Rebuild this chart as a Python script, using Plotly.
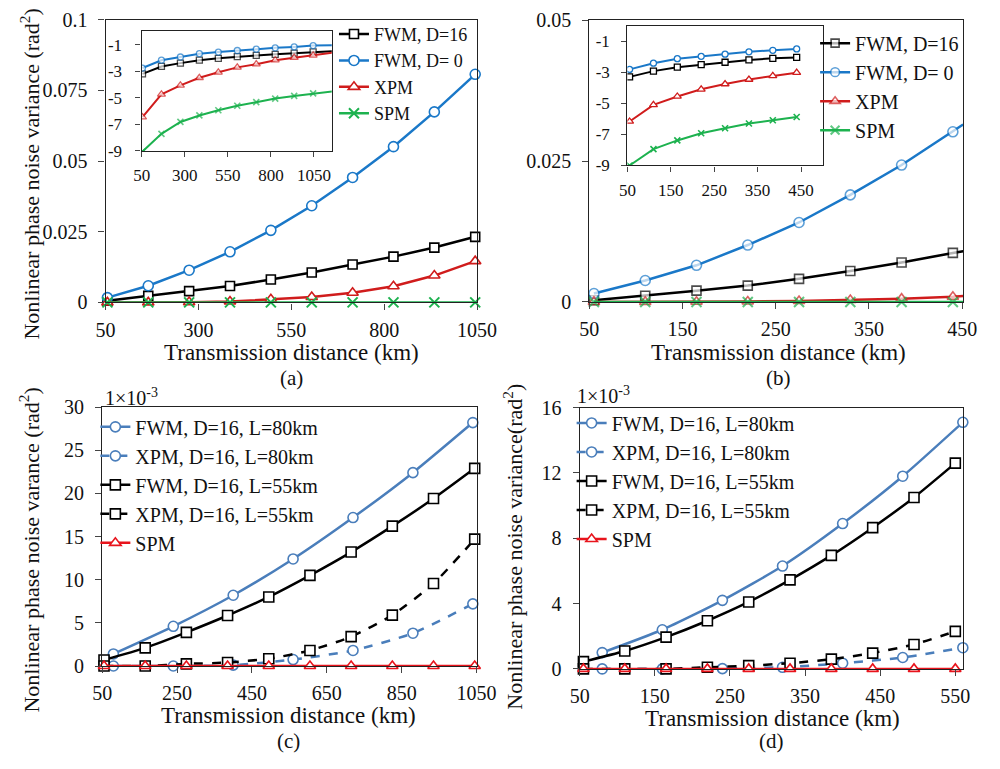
import plotly.graph_objects as go

# ---------------- data ----------------
# panel (a): main
a_x = [55, 165, 275, 385, 495, 605, 715, 825, 935, 1045]
a_fwm16 = [0.0006, 0.0023, 0.0040, 0.0058, 0.0081, 0.0106, 0.0134, 0.0162, 0.0194, 0.0232]
a_fwm0 = [0.0017, 0.0059, 0.0114, 0.0179, 0.0255, 0.0342, 0.0442, 0.0551, 0.0674, 0.0807]
a_xpm = [0.0, 0.0, 0.0001, 0.0003, 0.0011, 0.0019, 0.0034, 0.0057, 0.0095, 0.0146]
a_spm = [0, 0, 0, 0, 0, 0, 0, 0, 0, 0]
# panel (a): inset (log10)
ia_x = [55, 165, 275, 385, 495, 605, 715, 825, 935, 1045, 1155]
ia_fwm16 = [-3.20, -2.64, -2.39, -2.17, -2.03, -1.90, -1.81, -1.73, -1.64, -1.54, -1.49]
ia_fwm0 = [-2.76, -2.17, -1.93, -1.68, -1.56, -1.44, -1.34, -1.24, -1.17, -1.07, -1.05]
ia_xpm = [-6.45, -4.74, -4.06, -3.49, -3.08, -2.71, -2.47, -2.17, -1.98, -1.81, -1.61]
ia_spm = [-9.05, -7.72, -6.82, -6.33, -5.94, -5.60, -5.33, -5.06, -4.86, -4.67, -4.52]

# panel (b): main
b_x = [55, 110, 165, 220, 275, 330, 385, 440, 451]
b_fwm16 = [0.0003, 0.0011, 0.0020, 0.0029, 0.0041, 0.0055, 0.0070, 0.0087, 0.0090]
b_fwm0 = [0.0015, 0.0038, 0.0065, 0.0101, 0.0141, 0.0190, 0.0243, 0.0302, 0.0315]
b_xpm = [0.0, 0.00001, 0.00003, 0.00008, 0.00017, 0.00034, 0.00058, 0.00093, 0.00105]
b_spm = [0, 0, 0, 0, 0, 0, 0, 0, 0]
# panel (b): inset (log10)
ib_x = [55, 110, 165, 220, 275, 330, 385, 440]
ib_fwm16 = [-3.30, -2.93, -2.68, -2.51, -2.36, -2.21, -2.11, -2.05]
ib_fwm0 = [-2.82, -2.42, -2.13, -1.98, -1.84, -1.69, -1.59, -1.50]
ib_xpm = [-6.17, -5.10, -4.56, -4.10, -3.76, -3.47, -3.24, -3.03]
ib_spm = [-9.00, -7.95, -7.39, -6.93, -6.61, -6.30, -6.09, -5.88]

# panel (c)  (values x 1e-3)
c_x80 = [80, 240, 400, 560, 720, 880, 1040]
c_fwm80 = [1.4, 4.6, 8.2, 12.4, 17.2, 22.4, 28.2]
c_xpm80 = [0.0, 0.0, 0.1, 0.75, 1.8, 3.8, 7.2]
c_x55 = [55, 165, 275, 385, 495, 605, 715, 825, 935, 1045]
c_fwm55 = [0.7, 2.1, 3.9, 5.85, 8.0, 10.5, 13.2, 16.2, 19.4, 22.9]
c_xpm55 = [0.0, 0.0, 0.25, 0.4, 0.85, 1.8, 3.4, 5.9, 9.55, 14.7]
c_spm = [0, 0, 0, 0, 0, 0, 0, 0, 0, 0]

# panel (d)  (values x 1e-3)
d_x80 = [80, 160, 240, 320, 400, 480, 560]
d_fwm80 = [1.0, 2.4, 4.2, 6.3, 8.9, 11.8, 15.1]
d_xpm80 = [0.0, 0.0, 0.02, 0.1, 0.35, 0.7, 1.3]
d_x55 = [55, 110, 165, 220, 275, 330, 385, 440, 495, 550]
d_fwm55 = [0.45, 1.1, 1.95, 2.95, 4.1, 5.45, 6.95, 8.65, 10.5, 12.6]
d_xpm55 = [0.0, 0.0, 0.0, 0.1, 0.2, 0.35, 0.6, 0.97, 1.5, 2.3]
d_spm = [0, 0, 0, 0, 0, 0, 0, 0, 0, 0]

# tick labels
inset_y_vals = [-9, -7, -5, -3, -1]
inset_y_text = ["-9", "-7", "-5", "-3", "-1"]

# names
ab_names = ["FWM, D=16", "FWM, D= 0", "XPM", "SPM"]
cd_names = ["FWM, D=16, L=80km", "XPM, D=16, L=80km", "FWM, D=16, L=55km",
            "XPM, D=16, L=55km", "SPM"]

# ---------------- style ----------------
FONT = "Liberation Serif"
BLACK = "#000000"
BLUE = "#1a78c8"
RED = "#d01c1c"
GREEN = "#1db24f"
SBLUE = "#4a7ebb"
RED2 = "#e8141c"

W, H = 1000, 769


def px_x(p):
    return p / W


def px_y(p):
    return 1 - p / H


fig = go.Figure()


def add(x, y, name, color, symbol, size, xa, ya, legend="legend", dash="solid",
        width=2.5, shape="linear", show=True, clip=False, sizes=None, mlw=1.6):
    fig.add_trace(go.Scatter(
        x=x, y=y, name=name, mode="lines+markers", xaxis=xa, yaxis=ya,
        legend=legend, showlegend=show,
        line=dict(color=color, width=width, dash=dash, shape=shape, smoothing=0.6),
        marker=dict(symbol=symbol, size=sizes if sizes is not None else size,
                    color="white", line=dict(color=color, width=mlw)),
        cliponaxis=clip))


# (a) main
add(a_x, a_fwm16, ab_names[0], BLACK, "square", 9, "x", "y", "legend")
add(a_x, a_fwm0, ab_names[1], BLUE, "circle", 10, "x", "y", "legend")
add(a_x, a_xpm, ab_names[2], RED, "triangle-up", 10, "x", "y", "legend")
add(a_x, a_spm, ab_names[3], GREEN, "x-thin", 10, "x", "y", "legend", mlw=2)
# (a) inset
ins_sizes = [6] * 10 + [0]
add(ia_x, ia_fwm16, ab_names[0], BLACK, "square", 6, "x2", "y2", show=False, width=2, clip=True, sizes=ins_sizes, mlw=1.3)
add(ia_x, ia_fwm0, ab_names[1], BLUE, "circle", 6, "x2", "y2", show=False, width=2, clip=True, sizes=ins_sizes, mlw=1.3)
add(ia_x, ia_xpm, ab_names[2], RED, "triangle-up", 7, "x2", "y2", show=False, width=2, clip=True, sizes=[7] * 10 + [0], mlw=1.3)
add(ia_x, ia_spm, ab_names[3], GREEN, "x-thin", 6, "x2", "y2", show=False, width=2, clip=True, sizes=ins_sizes, mlw=1.6)

# (b) main
b_sizes = [10] * 8 + [0]
add(b_x, b_fwm16, ab_names[0], BLACK, "square", 9, "x3", "y3", "legend2", sizes=[9] * 8 + [0])
add(b_x, b_fwm0, ab_names[1], BLUE, "circle", 10, "x3", "y3", "legend2", sizes=b_sizes)
add(b_x, b_xpm, ab_names[2], RED, "triangle-up", 10, "x3", "y3", "legend2", sizes=b_sizes)
add(b_x, b_spm, ab_names[3], GREEN, "x-thin", 10, "x3", "y3", "legend2", sizes=b_sizes, mlw=2)
# (b) inset
add(ib_x, ib_fwm16, ab_names[0], BLACK, "square", 6, "x4", "y4", show=False, width=2, clip=True, mlw=1.3)
add(ib_x, ib_fwm0, ab_names[1], BLUE, "circle", 6, "x4", "y4", show=False, width=2, clip=True, mlw=1.3)
add(ib_x, ib_xpm, ab_names[2], RED, "triangle-up", 7, "x4", "y4", show=False, width=2, clip=True, mlw=1.3)
add(ib_x, ib_spm, ab_names[3], GREEN, "x-thin", 6, "x4", "y4", show=False, width=2, clip=True, mlw=1.6)

# (c)
add(c_x80, c_fwm80, cd_names[0], SBLUE, "circle", 10, "x5", "y5", "legend3", shape="spline")
add(c_x80, c_xpm80, cd_names[1], SBLUE, "circle", 10, "x5", "y5", "legend3", dash="dash", shape="spline")
add(c_x55, c_fwm55, cd_names[2], BLACK, "square", 10, "x5", "y5", "legend3", shape="spline")
add(c_x55, c_xpm55, cd_names[3], BLACK, "square", 10, "x5", "y5", "legend3", dash="dash", shape="spline")
add(c_x55, c_spm, cd_names[4], RED2, "triangle-up", 10, "x5", "y5", "legend3")

# (d)
add(d_x80, d_fwm80, cd_names[0], SBLUE, "circle", 10, "x6", "y6", "legend4", shape="spline")
add(d_x80, d_xpm80, cd_names[1], SBLUE, "circle", 10, "x6", "y6", "legend4", dash="dash", shape="spline")
add(d_x55, d_fwm55, cd_names[2], BLACK, "square", 10, "x6", "y6", "legend4", shape="spline")
add(d_x55, d_xpm55, cd_names[3], BLACK, "square", 10, "x6", "y6", "legend4", dash="dash", shape="spline")
add(d_x55, d_spm, cd_names[4], RED2, "triangle-up", 10, "x6", "y6", "legend4")


def axis(dom_px, rng, horizontal, size=20, **kw):
    if horizontal:
        dom = [px_x(dom_px[0]), px_x(dom_px[1])]
    else:
        dom = [px_y(dom_px[1]), px_y(dom_px[0])]
    d = dict(domain=dom, range=rng, showline=True, linecolor="#222222", linewidth=1.3,
             mirror=True, ticks="outside", ticklen=6, tickwidth=1.2, tickcolor="#444444",
             showgrid=False, zeroline=False, fixedrange=True,
             tickfont=dict(family=FONT, size=size, color="#111111"))
    d.update(kw)
    return d


MAINX = dict(ticklabelstandoff=3)
MAINY = dict(ticklabelstandoff=7)

layout = dict(
    width=W, height=H, margin=dict(l=0, r=0, t=0, b=0),
    paper_bgcolor="white", plot_bgcolor="white",
    font=dict(family=FONT, color="#111111"),
    # (a)
    xaxis=axis([98.5, 481.5], [50, 1050], True, anchor="y", tick0=50, dtick=250, **MAINX),
    yaxis=axis([9, 300], [0, 0.1], False, anchor="x", tick0=0, dtick=0.025, **MAINY),
    xaxis2=axis([135.7, 331.7], [50, 1153], True, size=17, anchor="y2", tick0=50, dtick=250,
                ticklen=5, ticklabelstandoff=4),
    yaxis2=axis([21, 144], [-9, 0], False, size=17, anchor="x2", ticklen=5,
                tickvals=inset_y_vals, ticktext=inset_y_text, ticklabelstandoff=10),
    # (b)
    xaxis3=axis([597.2, 982.6], [50, 451], True, anchor="y3", tick0=50, dtick=100, **MAINX),
    yaxis3=axis([9.5, 299.5], [0, 0.05], False, anchor="x3", tick0=0, dtick=0.025, **MAINY),
    xaxis4=axis([636.5, 838.3], [50, 501], True, size=17, anchor="y4", tick0=50, dtick=100,
                ticklen=5, ticklabelstandoff=4),
    yaxis4=axis([15, 159], [-9, 0], False, size=17, anchor="x4", ticklen=5,
                tickvals=inset_y_vals, ticktext=inset_y_text, ticklabelstandoff=8),
    # (c)
    xaxis5=axis([95, 481], [50, 1050], True, anchor="y5", tick0=50, dtick=200, **MAINX),
    yaxis5=axis([407.7, 674.3], [0, 30], False, anchor="x5", tick0=0, dtick=5, **MAINY),
    # (d)
    xaxis6=axis([587.3, 982.3], [50, 560], True, anchor="y6", tick0=50, dtick=100, **MAINX),
    yaxis6=axis([408.3, 677.3], [0, 16], False, anchor="x6", tick0=0, dtick=4, **MAINY),
)


def leg(xp, yp, size):
    return dict(x=px_x(xp), y=px_y(yp), xanchor="left", yanchor="top",
                bgcolor="rgba(0,0,0,0)", borderwidth=0,
                font=dict(family=FONT, size=size, color="#111111"),
                itemclick=False, itemdoubleclick=False)


layout["legend"] = leg(334, 5, 18)
layout["legend2"] = leg(830, 13, 20)
layout["legend3"] = leg(88, 408, 20)
layout["legend4"] = leg(579, 404, 20)

fig.update_layout(**layout)


def note(text, xp, yp, size, angle=0, xanchor="center"):
    fig.add_annotation(text=text, x=px_x(xp), y=px_y(yp), xref="paper", yref="paper",
                       showarrow=False, textangle=angle, xanchor=xanchor, yanchor="middle",
                       font=dict(family=FONT, size=size, color="#111111"))


note("Nonlinear phase noise variance (rad<sup>2</sup>)", 21, 168, 22, angle=-90)
note("Transmission distance (km)", 290, 352, 23)
note("(a)", 290, 378, 21)
note("Transmission distance (km)", 792, 352, 23)
note("(b)", 792, 378, 21)
note("Nonlinear phase noise varance (rad<sup>2</sup>)", 20, 555, 22, angle=-90)
note("Transmission distance (km)", 287, 725, 23)
note("(c)", 287, 752, 21)
note("1×10<sup>-3</sup>", 96, 397, 20, xanchor="left")
note("Nonlinear phase noise variance(rad<sup>2</sup>)", 519, 551, 22, angle=-90)
note("Transmission distance (km)", 786, 728, 23)
note("(d)", 785, 752, 21)
note("1×10<sup>-3</sup>", 582, 395, 20, xanchor="left")

fig.write_html("out.html")
